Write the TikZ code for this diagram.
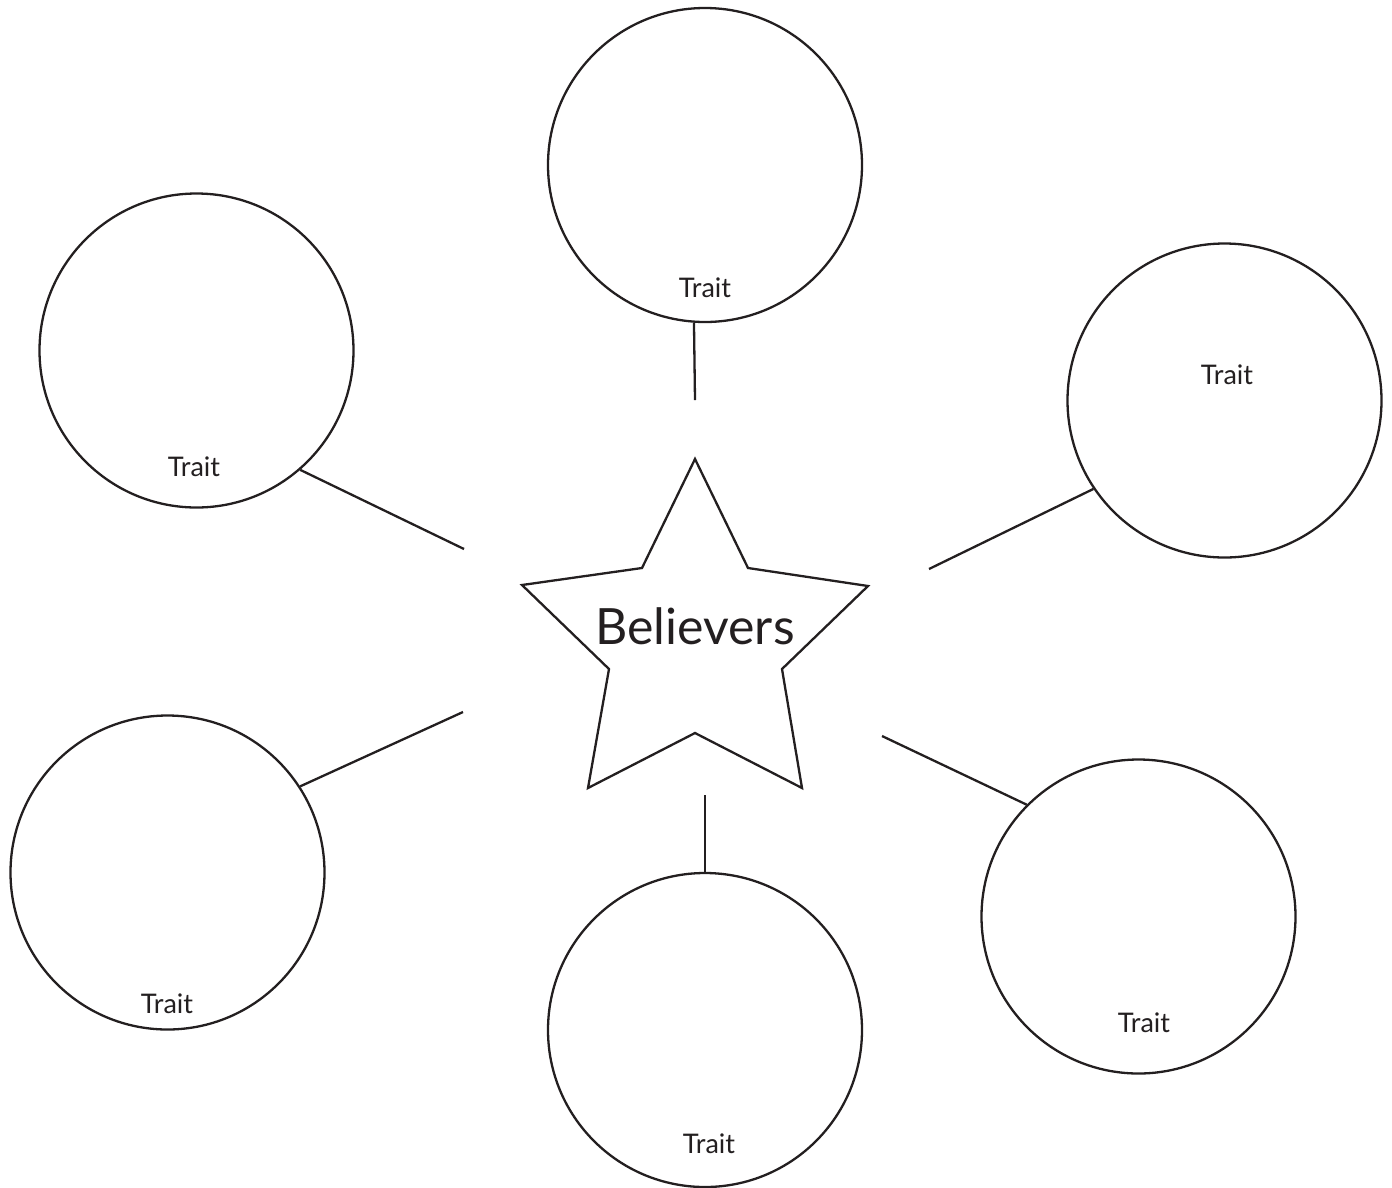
\documentclass[tikz,border=0pt]{standalone}
\usepackage{fontspec}
\setmainfont{Lato}
\definecolor{ink}{HTML}{231F20}
\begin{document}
\begin{tikzpicture}[x=1pt,y=-1pt,
  trait/.style={circle,draw=ink,line width=2.3pt,minimum size=314pt,inner sep=0pt},
  lbl/.style={text=ink,font=\fontsize{27}{30}\selectfont,inner sep=0pt},
  conn/.style={draw=ink,line width=2.3pt}]
\useasboundingbox (0,0) rectangle (1392,1187);
% circles
\node[trait] (ct) at (705,165) {};
\node[trait] (cul) at (196.5,350.5) {};
\node[trait] (cr) at (1224.5,400.5) {};
\node[trait] (cll) at (167.5,872.5) {};
\node[trait] (cb) at (705,1030) {};
\node[trait] (clr) at (1138.5,916.5) {};
% labels
\node[lbl] (lt) at (705,288) {Trait};
\node[lbl] (lul) at (194,467) {Trait};
\node[lbl] (lr) at (1227,375) {Trait};
\node[lbl] (lll) at (167,1004) {Trait};
\node[lbl] (lb) at (709,1144) {Trait};
\node[lbl] (llr) at (1144,1023) {Trait};
% star
\draw[ink,line width=2.3pt,line join=miter]
  (695,459) -- (748,568) -- (868,586) -- (782,669) -- (802,788) -- (695,733)
  -- (588,788) -- (609,669) -- (522,585) -- (642,568) -- cycle;
\node[text=ink,font=\fontsize{50}{55}\selectfont,inner sep=0pt] (star) at (695,626) {Believers};
% connector end points
\coordinate (et) at (695,400);
\coordinate (eul) at (464,549);
\coordinate (er) at (929,569);
\coordinate (ell) at (463,712);
\coordinate (eb) at (705,795);
\coordinate (elr) at (882,736);
\draw[conn] (ct.266.4) -- (et);
\draw[conn] (cul.-49) -- (eul);
\draw[conn] (cr.214.5) -- (er);
\draw[conn] (cll.33.7) -- (ell);
\draw[conn] (cb.90) -- (eb);
\draw[conn] (clr.135) -- (elr);
\end{tikzpicture}
\end{document}
